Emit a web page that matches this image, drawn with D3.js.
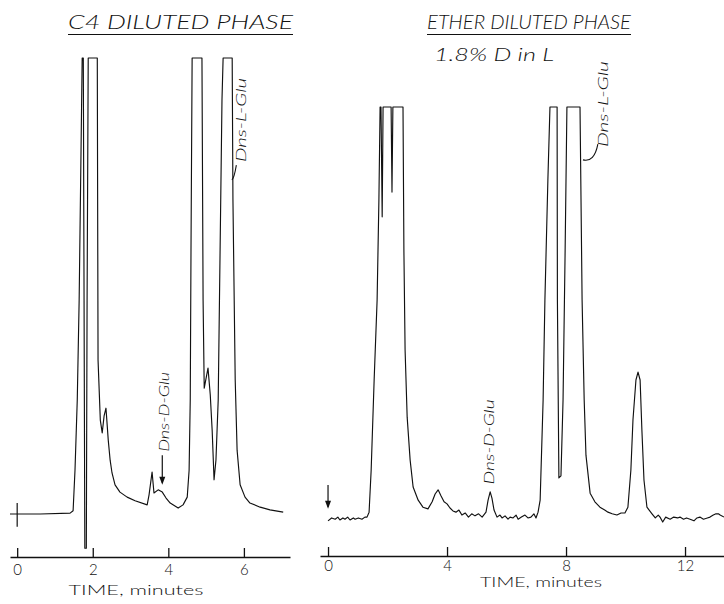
<!DOCTYPE html>
<html>
<head>
<meta charset="utf-8">
<script src="https://cdn.jsdelivr.net/npm/d3@7"></script>
<style>
  body { margin: 0; background: #fff; }
  svg { display: block; }
  .trace { fill: none; stroke: #111; stroke-width: 1.15; stroke-linejoin: round; }
  .axis path, .axis line { stroke: #111; stroke-width: 1.3; }
  .axis text { font-family: Lato, "Liberation Sans", sans-serif; font-weight: 300; font-size: 15px; fill: #111; }
  .title { font-family: Lato, "Liberation Sans", sans-serif; font-weight: 300; font-style: italic; fill: #111; }
  .peak { font-family: Lato, "Liberation Sans", sans-serif; font-weight: 300; font-style: italic; font-size: 14px; fill: #111; }
  .xlabel { font-family: Lato, "Liberation Sans", sans-serif; font-weight: 300; font-size: 14px; fill: #111; }
</style>
</head>
<body>
<svg id="chart"></svg>
<script>
//chromatogram: time in minutes, detector response
//in % of full scale (100 = pen hits the top)

var leftTime = [-0.19,0.61,1.40,1.48,1.53,1.59,1.64,1.69,1.72,1.75,1.77,1.79,1.83,1.85,1.88,2.12,
    2.14,2.20,2.25,2.30,2.35,2.41,2.46,2.51,2.59,2.72,2.91,3.12,3.44,3.49,3.57,3.62,3.73,3.84,
    3.94,4.05,4.26,4.39,4.50,4.55,4.58,4.60,4.63,4.89,4.92,4.95,5.00,5.05,5.11,5.16,5.21,5.26,
    5.32,5.37,5.42,5.45,5.69,5.71,5.77,5.82,5.90,6.03,6.16,6.43,6.69,7.04];
var leftSignal = [0,0,0.2,0.7,9.6,25.0,46.9,79.8,100,100,46.9,-7.5,-7.5,46.9,100,100,
    33.8,20.6,17.8,21.5,23.2,16.2,11.8,9.0,6.4,4.8,3.7,2.9,2.0,4.2,9.2,4.6,5.3,4.8,
    3.5,2.4,1.3,2.0,3.7,9.6,25.0,57.9,100,100,46.9,27.6,29.8,32.0,26.1,18.4,7.5,11.8,
    25.0,57.9,90.8,100,100,68.9,29.4,14.0,6.4,3.7,2.4,1.5,0.9,0.4];

var rightTime = [0,0.12,0.24,0.33,0.40,0.50,0.57,0.66,0.74,0.85,0.91,1.02,1.14,1.24,1.31,1.38,
    1.45,1.55,1.65,1.71,1.75,1.78,1.82,1.85,2.12,2.15,2.18,2.52,2.55,2.59,2.66,2.76,2.86,3.03,
    3.19,3.36,3.50,3.60,3.70,3.80,3.90,4.00,4.10,4.20,4.30,4.40,4.50,4.61,4.72,4.83,4.94,5.06,
    5.18,5.31,5.38,5.45,5.51,5.58,5.68,5.78,5.85,5.95,6.05,6.12,6.22,6.32,6.39,6.50,6.62,6.72,
    6.82,6.92,6.99,7.06,7.13,7.23,7.29,7.39,7.46,7.70,7.71,7.76,7.83,7.90,7.97,8.03,8.47,8.54,
    8.61,8.67,8.81,8.97,9.14,9.30,9.41,9.55,9.71,9.85,9.98,10.08,10.18,10.25,10.35,10.42,10.49,
    10.55,10.62,10.72,10.89,11.00,11.10,11.16,11.25,11.35,11.50,11.62,11.75,11.83,11.95,12.05,
    12.17,12.30,12.40,12.50,12.62,12.75,12.84,12.95,13.04,13.12,13.18,13.31];
var rightSignal = [-0.2,0.5,0.2,0.7,0,0.5,0.2,0.7,0,0.5,0.2,0.5,0.2,0.7,0.7,1.9,
    12.1,33.9,53.3,77.5,100,100,73.4,100,100,79.4,100,100,65.4,41.2,24.9,14.5,8.0,4.8,
    3.1,2.7,4.4,6.3,7.3,5.8,4.4,3.9,2.9,2.2,1.9,2.4,1.2,1.7,0.7,1.5,1.0,1.5,
    0.7,1.9,4.8,6.8,5.3,2.4,0.7,1.2,0.5,1.0,0.2,0.7,0.5,1.2,0.2,0.7,1.2,0.5,
    0.7,1.5,0.5,1.9,4.8,29.1,53.3,82.3,100,100,53.3,10.2,10.7,29.1,65.4,100,100,53.3,
    29.1,15.7,6.5,4.4,3.1,2.4,1.9,1.5,1.2,1.7,1.7,3.1,12.1,24.2,33.9,35.8,33.9,
    21.8,9.7,3.1,1.5,0.5,1.2,0.7,-0.5,0.7,0.2,0.7,0.5,0.7,0.2,0.5,
    0.2,-0.2,0.5,0.7,0.2,0.5,0.7,1.2,1.5,1.5,1.2,0.7];

var leftTicks = [0,2,4,6];
var rightTicks = [0,4,8,12];
var leftTitle = "C4 DILUTED PHASE";
var rightTitle = "ETHER DILUTED PHASE";
var rightSubtitle = "1.8% D in L";
var axisTitle = "TIME, minutes";

var zip = function(times,values)
{
    return times.map(function(t,i)
    {
        return {t:t, v:values[i]};
    });
}

//rotated italic peak name
var peakLabel = function(svg,x,y,text,len)
{
    svg.append("text")
        .attr("class","peak")
        .attr("transform","translate("+x+","+y+") rotate(-90)")
        .attr("text-anchor","middle")
        .attr("dominant-baseline","central")
        .attr("textLength",len)
        .attr("lengthAdjust","spacingAndGlyphs")
        .text(text);
}

var downArrow = function(svg,x,y1,y2)
{
    svg.append("line")
        .attr("x1",x).attr("x2",x)
        .attr("y1",y1).attr("y2",y2-2)
        .attr("stroke","#111")
        .attr("stroke-width",1.2);
    svg.append("path")
        .attr("d","M"+(x-3)+","+(y2-8)+"L"+(x+3)+","+(y2-8)+"L"+x+","+y2+"Z")
        .attr("fill","#111");
}

var drawPanel = function(svg,panel)
{
    var xScale = d3.scaleLinear()
        .domain(panel.xDomain)
        .range(panel.xRange);
    var yScale = d3.scaleLinear()
        .domain([0,100])
        .range(panel.yRange);

    var line = d3.line()
        .x(function(d){ return xScale(d.t); })
        .y(function(d){ return yScale(d.v); });

    svg.append("path")
        .datum(zip(panel.time,panel.signal))
        .attr("class","trace")
        .attr("d",line);

    //time axis, ticks pointing up
    var axis = d3.axisBottom(xScale)
        .tickValues(panel.ticks)
        .tickFormat(d3.format("d"))
        .tickSizeInner(-9)
        .tickSizeOuter(0)
        .tickPadding(panel.tickPad);

    svg.append("g")
        .attr("class","axis")
        .attr("transform","translate(0,"+panel.axisY+")")
        .call(axis);

    svg.append("text")
        .attr("class","xlabel")
        .attr("x",panel.labelX)
        .attr("y",panel.labelY)
        .attr("text-anchor","middle")
        .attr("textLength",panel.labelLen)
        .attr("lengthAdjust","spacingAndGlyphs")
        .text(axisTitle);

    //title with the hand drawn underline
    svg.append("text")
        .attr("class","title")
        .attr("x",(panel.titleX[0]+panel.titleX[1])/2)
        .attr("y",29)
        .attr("text-anchor","middle")
        .attr("font-size",19)
        .attr("textLength",panel.titleX[1]-panel.titleX[0])
        .attr("lengthAdjust","spacingAndGlyphs")
        .text(panel.title);

    svg.append("line")
        .attr("x1",panel.titleX[0]).attr("x2",panel.titleX[1])
        .attr("y1",34.5).attr("y2",34.5)
        .attr("stroke","#111")
        .attr("stroke-width",1.2);

    return {x:xScale, y:yScale};
}

var initChart = function(target)
{
    var screen = {width:724, height:604};

    var svg = d3.select(target)
        .attr("width",screen.width)
        .attr("height",screen.height);

    var left = drawPanel(svg,{
        time:leftTime, signal:leftSignal, ticks:leftTicks,
        xDomain:[-0.19,7.22], xRange:[10,290], yRange:[514,58],
        axisY:557, tickPad:7, labelX:136, labelY:595, labelLen:135,
        title:leftTitle, titleX:[68,293]
    });

    var right = drawPanel(svg,{
        time:rightTime, signal:rightSignal, ticks:rightTicks,
        xDomain:[-0.27,13.31], xRange:[320,724], yRange:[520,107],
        axisY:556, tickPad:4, labelX:541, labelY:587, labelLen:122,
        title:rightTitle, titleX:[427,631]
    });

    svg.append("text")
        .attr("class","title")
        .attr("x",494)
        .attr("y",61)
        .attr("text-anchor","middle")
        .attr("font-size",18)
        .attr("textLength",120)
        .attr("lengthAdjust","spacingAndGlyphs")
        .text(rightSubtitle);

    //start of run marks
    svg.append("line")
        .attr("x1",left.x(0)).attr("x2",left.x(0))
        .attr("y1",left.y(2.4)).attr("y2",left.y(-2.8))
        .attr("stroke","#111").attr("stroke-width",1.2);
    downArrow(svg,right.x(0),right.y(8.5),right.y(2.7));

    //peak names on the left run
    peakLabel(svg,left.x(5.90),left.y(86.4),"Dns-L-Glu",84);
    svg.append("path")
        .attr("d","M"+left.x(5.80)+","+left.y(76.5)+
            "Q"+left.x(5.74)+","+left.y(73.5)+" "+left.x(5.68)+","+left.y(73.3))
        .attr("fill","none").attr("stroke","#111").attr("stroke-width",1.1);
    peakLabel(svg,left.x(3.86),left.y(22.4),"Dns-D-Glu",80);
    downArrow(svg,left.x(3.84),left.y(12.9),left.y(6.4));

    //peak names on the right run
    peakLabel(svg,right.x(9.21),right.y(100.7),"Dns-L-Glu",86);
    svg.append("path")
        .attr("d","M"+right.x(9.07)+","+right.y(91)+
            "Q"+right.x(8.95)+","+right.y(86.5)+" "+right.x(8.57)+","+right.y(87.2))
        .attr("fill","none").attr("stroke","#111").attr("stroke-width",1.1);
    peakLabel(svg,right.x(5.41),right.y(18.9),"Dns-D-Glu",85);
}

initChart("#chart");
</script>
</body>
</html>
